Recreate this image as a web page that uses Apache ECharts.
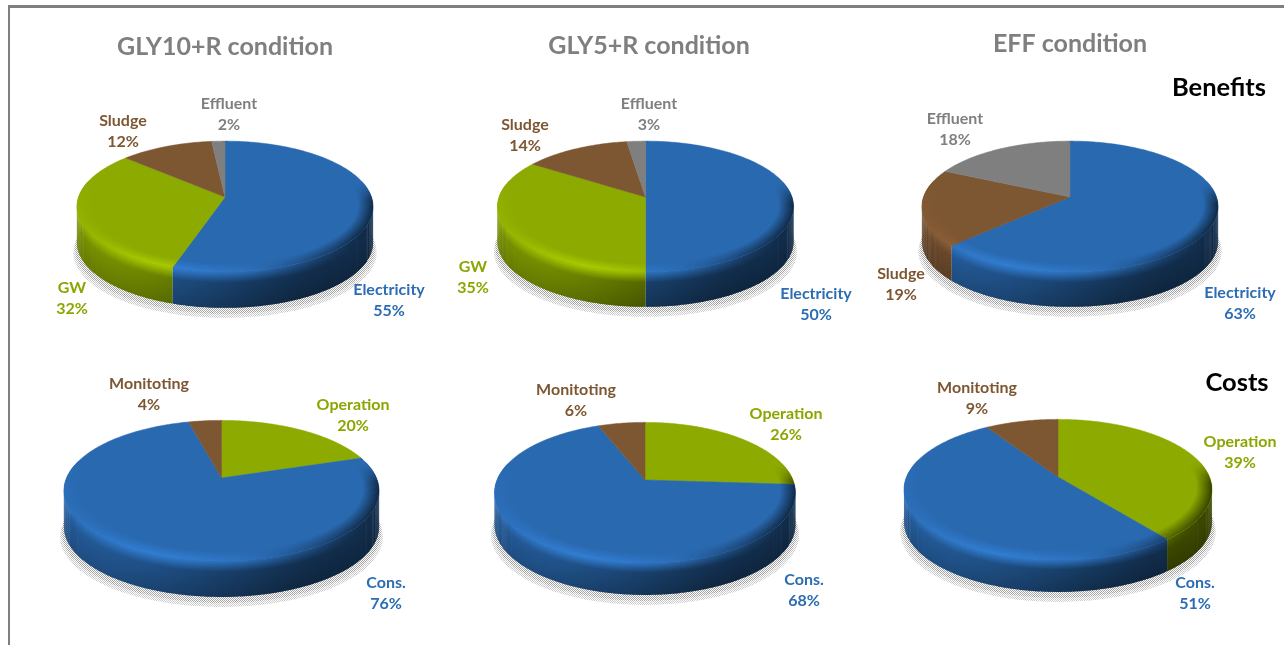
<!DOCTYPE html>
<html>
<head>
<meta charset="utf-8">
<style>html,body{margin:0;padding:0;background:#fff}#c{width:1284px;height:645px}</style>
<script src="https://cdn.jsdelivr.net/npm/echarts@6/dist/echarts.min.js"></script>
</head>
<body>
<div id="c"></div>
<script>
// ---------- data ----------
const conditions = ['GLY10+R condition', 'GLY5+R condition', 'EFF condition'];
const rowTitles = ['Benefits', 'Costs'];
const gly10BenefitNames = ['Electricity', 'GW', 'Sludge', 'Effluent'];
const gly10BenefitValues = [55, 32, 12, 2];
const gly5BenefitNames = ['Electricity', 'GW', 'Sludge', 'Effluent'];
const gly5BenefitValues = [50, 35, 14, 3];
const effBenefitNames = ['Electricity', 'Sludge', 'Effluent'];
const effBenefitValues = [63, 19, 18];
const costNames = ['Operation', 'Cons.', 'Monitoting'];
const gly10CostValues = [20, 76, 4];
const gly5CostValues = [26, 68, 6];
const effCostValues = [39, 51, 9];

// ---------- styles and layout ----------
const baseColor = {
  Electricity: [41, 105, 176], 'Cons.': [41, 105, 176],
  GW: [140, 170, 0], Operation: [140, 170, 0],
  Sludge: [125, 86, 50], Monitoting: [125, 86, 50],
  Effluent: [127, 127, 127]
};
const textColor = {
  Electricity: '#2b6cb2', 'Cons.': '#2b6cb2',
  GW: '#8aa600', Operation: '#8aa600',
  Sludge: '#7d5632', Monitoting: '#7d5632',
  Effluent: '#7f7f7f'
};
const FONT = 'Lato, Carlito, "Open Sans", sans-serif';
const pies = [
  {names: gly10BenefitNames, values: gly10BenefitValues, ax: 225, ay: 197, rx: 146.5, ry: 64, k: 0.145, h: 36,
   labels: [[389, 300.5], [72, 298.5], [123, 131.5], [229, 114.5]]},
  {names: gly5BenefitNames, values: gly5BenefitValues, ax: 645.5, ay: 197, rx: 146.5, ry: 64, k: 0.145, h: 35,
   labels: [[816, 304.5], [473, 277.5], [525, 135.5], [649, 114.5]]},
  {names: effBenefitNames, values: effBenefitValues, ax: 1070, ay: 197, rx: 146.5, ry: 64, k: 0.145, h: 35,
   labels: [[1240, 303.5], [901, 284.5], [955, 129.5]]},
  {names: costNames, values: gly10CostValues, ax: 221.5, ay: 478, rx: 155, ry: 68, k: 0.18, h: 36,
   labels: [[353, 415.5], [386, 593.5], [149, 394.5]]},
  {names: costNames, values: gly5CostValues, ax: 645, ay: 480, rx: 148, ry: 68, k: 0.18, h: 32,
   labels: [[786, 424.5], [804, 590.5], [576, 400.5]]},
  {names: costNames, values: effCostValues, ax: 1058, ay: 477, rx: 151.5, ry: 68, k: 0.18, h: 32,
   labels: [[1240, 452.5], [1195, 593.5], [977, 398.5]]}
];

// ---------- helpers ----------
function project(p, t, r, dy) {
  const u = Math.sin(t) * r, v = Math.cos(t) * r, w = 1 + p.k * v;
  return [p.ax + p.rx * u / w, p.ay - p.ry * v / w + (dy || 0)];
}
function shade(c, f) {
  return 'rgb(' + c.map(x => Math.min(255, Math.round(x * f))).join(',') + ')';
}
function smooth(a, b, x) { const s = Math.min(1, Math.max(0, (x - a) / (b - a))); return s * s * (3 - 2 * s); }
function lerp(a, b, s) { return a + (b - a) * s; }
function linear(x, y, x2, y2, stops) {
  return {type: 'linear', global: true, x, y, x2, y2, colorStops: stops};
}
function stipple(dark, light) {
  const cv = document.createElement('canvas');
  cv.width = cv.height = 2;
  const g = cv.getContext('2d');
  g.fillStyle = light; g.fillRect(0, 0, 2, 2);
  g.fillStyle = dark; g.fillRect(0, 0, 1, 1); g.fillRect(1, 1, 1, 1);
  return {image: cv, repeat: 'repeat'};
}
const shadowOuter = stipple('#cccccc', '#ffffff');
const shadowInner = stipple('#a4a4a4', '#ffffff');

function outline(p, grow, dy) {
  const pts = [];
  for (let a = 0; a < 360; a += 3) {
    const q = project(p, a * Math.PI / 180, 1, dy);
    pts.push([p.ax + (q[0] - p.ax) * grow, q[1]]);
  }
  return pts;
}
// Rounded labels can add up to 99 or 101: an excess is absorbed by the later slices, a shortfall by all.
function sliceShares(values) {
  const sum = values.reduce((s, x) => s + x, 0), excess = sum - 100;
  if (excess <= 0) return values.map(x => x / sum);
  return values.map((x, i) => (i === 0 ? x : x - excess / (values.length - 1)) / 100);
}
function highlight(xn) {
  return 1 + 0.2 * Math.exp(-Math.pow((xn + 0.35) / 0.5, 2)) - 0.62 * smooth(0.05, 1, xn);
}

function renderSlice(p, params, api) {
  const i = params.dataIndex;
  const shares = sliceShares(p.values);
  let before = 0;
  for (let j = 0; j < i; j++) before += shares[j];
  const val = api.value(0);
  const t0 = before * 2 * Math.PI, t1 = (before + shares[i]) * 2 * Math.PI;
  const name = p.names[i], base = baseColor[name];
  const kids = [];

  if (i === 0) {
    kids.push({type: 'polygon', shape: {points: outline(p, 1.024, p.h + 10)}, style: {fill: shadowOuter}, silent: true});
    kids.push({type: 'polygon', shape: {points: outline(p, 1.012, p.h + 6)}, style: {fill: shadowInner}, silent: true});
  }

  const step = 1 * Math.PI / 180;
  const n = Math.max(2, Math.ceil((t1 - t0) / step));
  const span = (t1 - t0) / n;
  const top = [[p.ax, p.ay]];
  for (let s = 0; s <= n; s++) top.push(project(p, t0 + span * s, 1));

  // wall
  for (let s = 0; s < n; s++) {
    const a = t0 + span * s, b = Math.min(t1, a + span * 1.5), mid = a + span / 2;
    const v = Math.cos(mid), xn = Math.sin(mid), tx = (xn + 1) / 2;
    if (v < -p.k + 0.02) {
      const A = project(p, a, 1), B = project(p, b, 1);
      const y0 = project(p, mid, 1)[1];
      const hi = highlight(xn);
      const wt = lerp(0.84, 0.42, smooth(0.1, 0.85, tx));
      const wb = lerp(0.72, 0.35, smooth(0.1, 0.8, tx));
      kids.push({type: 'polygon', shape: {points: [A, B, [B[0], B[1] + p.h], [A[0], A[1] + p.h]]},
        style: {fill: linear(0, y0, 0, y0 + p.h, [
          {offset: 0, color: shade(base, hi * 0.98)},
          {offset: 0.3, color: shade(base, wt)},
          {offset: 1, color: shade(base, wb)}
        ])}, silent: true});
    }
  }

  // top face
  kids.push({type: 'polygon', shape: {points: top},
    style: {fill: shade(base, 1), stroke: shade(base, 1), lineWidth: 0.5, lineJoin: 'round'}, silent: true});

  // bevel on the near edge of the top face
  const inner = 0.9;
  for (let s = 0; s < n; s++) {
    const a = t0 + span * s, b = Math.min(t1, a + span * 1.5), mid = a + span / 2;
    const v = Math.cos(mid), xn = Math.sin(mid);
    if (v < 0.25) {
      const f = lerp(1, highlight(xn), smooth(0.25, -0.15, v));
      const o = project(p, mid, 1), q = project(p, mid, inner);
      kids.push({type: 'polygon',
        shape: {points: [project(p, a, 1), project(p, b, 1), project(p, b, inner), project(p, a, inner)]},
        style: {fill: linear(q[0], q[1], o[0], o[1], [
          {offset: 0, color: shade(base, 1)},
          {offset: 1, color: shade(base, f)}
        ])}, silent: true});
    }
  }

  // label
  const pos = p.labels[i];
  kids.push({type: 'text', silent: true, style: {
    text: name + '\n' + val + '%', x: pos[0], y: pos[1], align: 'center', verticalAlign: 'middle',
    fill: textColor[name], font: 'bold 16px ' + FONT, lineHeight: 21.5
  }});
  return {type: 'group', children: kids};
}

// ---------- chart ----------
const chart = echarts.init(document.getElementById('c'), null, {renderer: 'canvas'});
const titleAt = [[225, 47], [649, 46], [1070, 44]];
const rowAt = [[1219, 88], [1237, 383]];
chart.setOption({
  animation: false,
  backgroundColor: '#ffffff',
  graphic: [
    {type: 'line', silent: true, shape: {x1: 8, y1: 6.5, x2: 1284, y2: 6.5}, style: {stroke: '#7f7f7f', lineWidth: 3}},
    {type: 'line', silent: true, shape: {x1: 9, y1: 5, x2: 9, y2: 645}, style: {stroke: '#7f7f7f', lineWidth: 2}}
  ].concat(conditions.map((t, i) => ({
    type: 'text', silent: true, style: {text: t, x: titleAt[i][0], y: titleAt[i][1], align: 'center',
      verticalAlign: 'middle', fill: '#7f7f7f', font: 'bold 25px ' + FONT}
  }))).concat(rowTitles.map((t, i) => ({
    type: 'text', silent: true, style: {text: t, x: rowAt[i][0], y: rowAt[i][1], align: 'center',
      verticalAlign: 'middle', fill: '#000000', font: 'bold 25.5px ' + FONT}
  }))),
  series: pies.map(p => ({
    type: 'custom',
    coordinateSystem: 'none',
    clip: false,
    silent: true,
    data: p.names.map((n, i) => ({name: n, value: [p.values[i]]})),
    renderItem: (params, api) => renderSlice(p, params, api)
  }))
});
</script>
</body>
</html>
